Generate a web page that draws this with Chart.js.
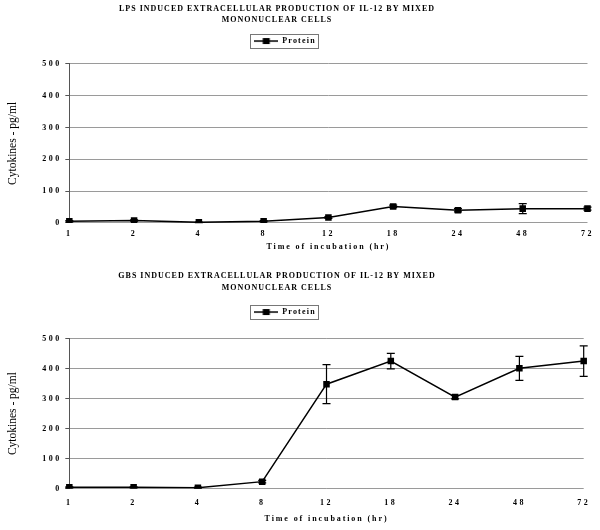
<!DOCTYPE html>
<html><head><meta charset="utf-8">
<script src="https://cdn.jsdelivr.net/npm/chart.js@4.4.0/dist/chart.umd.min.js"></script>
<style>
html,body{margin:0;padding:0;background:#fff;}
#c1{position:absolute;left:0;top:0;}
#c2{position:absolute;left:0;top:260px;}
</style></head><body>
<canvas id="c1" width="600" height="260"></canvas>
<canvas id="c2" width="600" height="270"></canvas>
<script>
// ---- data ----
const timeLabels = ['1','2','4','8','12','18','24','48','72'];
const lpsProtein = [5, 8, 2, 5, 17, 52, 40, 45, 45];
const lpsError   = [2, 2, 1, 2, 3, 4, 5, 16, 5];
const gbsProtein = [4, 4, 3, 23, 348, 425, 305, 401, 425];
const gbsError   = [2, 2, 2, 4, 65, 26, 6, 40, 51];
const yMax = 500;
const yStep = 100;
const lpsTitle = ['LPS INDUCED EXTRACELLULAR PRODUCTION OF IL-12 BY MIXED', 'MONONUCLEAR CELLS'];
const gbsTitle = ['GBS INDUCED EXTRACELLULAR PRODUCTION OF IL-12 BY MIXED', 'MONONUCLEAR CELLS'];
const seriesName = 'Protein';
const xTitle = 'Time of incubation (hr)';
const yTitle = 'Cytokines - pg/ml';

const SERIF = "'Liberation Serif', 'Times New Roman', serif";
// font sizes double as keys for letter spacing
const SZ_TITLE = 8, SZ_LEGEND = 8.01, SZ_TICK = 8.02, SZ_XTITLE = 8.03;
const SPACING = { '8': 1.0, '8.01': 1.2, '8.02': 2.5, '8.03': 1.9 };

function patchSpacing(ctx) {
  const f = ctx.fillText.bind(ctx), m = ctx.measureText.bind(ctx);
  const set = () => {
    const mm = /([\d.]+)px/.exec(ctx.font);
    const s = (mm && ctx.font.indexOf('bold') >= 0) ? (SPACING[String(parseFloat(mm[1]))] || 0) : 0;
    ctx.letterSpacing = s + 'px';
  };
  ctx.fillText = function (...a) { set(); return f(...a); };
  ctx.measureText = function (...a) { set(); return m(...a); };
}

function legendMarker() {
  const c = document.createElement('canvas');
  c.width = 24; c.height = 8;
  const g = c.getContext('2d');
  g.strokeStyle = '#000'; g.lineWidth = 1.5;
  g.beginPath(); g.moveTo(0, 4); g.lineTo(24, 4); g.stroke();
  g.fillStyle = '#000'; g.fillRect(8.5, 1, 7, 6);
  return c;
}

const errorBars = {
  id: 'errorBars',
  afterDatasetsDraw(chart) {
    const ctx = chart.ctx, ds = chart.data.datasets[0], meta = chart.getDatasetMeta(0), y = chart.scales.y;
    ctx.save(); ctx.strokeStyle = '#000'; ctx.lineWidth = 1.2;
    meta.data.forEach((pt, i) => {
      const v = ds.data[i], e = ds.errors[i];
      if (!e) return;
      const y1 = y.getPixelForValue(v + e), y2 = y.getPixelForValue(v - e), x = pt.x;
      ctx.beginPath();
      ctx.moveTo(x, y1); ctx.lineTo(x, y2);
      ctx.moveTo(x - 4, y1); ctx.lineTo(x + 4, y1);
      ctx.moveTo(x - 4, y2); ctx.lineTo(x + 4, y2);
      ctx.stroke();
    });
    ctx.restore();
  }
};

const boxShift = {
  id: 'boxShift',
  afterLayout(chart, args, opts) {
    const t = chart.titleBlock, l = chart.legend;
    if (t) { const h = t.bottom - t.top; t.left = 0; t.right = 554; t.top = opts.titleTop; t.bottom = t.top + h; }
    if (l) { const h = l.bottom - l.top; l.left = 0; l.right = 570; l.top = opts.legendTop; l.bottom = l.top + h; }
  },
  afterDraw(chart) {
    const lg = chart.legend;
    if (!lg || !lg.legendHitBoxes || !lg.legendHitBoxes.length) return;
    const hb = lg.legendHitBoxes[0], ctx = chart.ctx;
    ctx.save(); ctx.strokeStyle = '#777'; ctx.lineWidth = 1;
    ctx.strokeRect(Math.round(hb.left - 4) + 0.5, Math.round(hb.top - 3) + 0.5, Math.round(hb.width + 6), Math.round(hb.height + 6));
    ctx.restore();
  }
};

function makeChart(id, title, values, errors, L) {
  const canvas = document.getElementById(id);
  const ctx = canvas.getContext('2d');
  patchSpacing(ctx);
  return new Chart(canvas, {
    type: 'line',
    data: {
      labels: timeLabels,
      datasets: [{
        label: seriesName,
        data: values,
        errors: errors,
        borderColor: '#000',
        backgroundColor: '#000',
        borderWidth: 1.5,
        pointStyle: 'rect',
        pointRadius: 4.6,
        pointBorderWidth: 0,
        tension: 0
      }]
    },
    options: {
      responsive: false,
      animation: false,
      devicePixelRatio: 1,
      layout: { padding: { left: 4, right: 12, top: L.padTop, bottom: L.padBottom } },
      plugins: {
        boxShift: { titleTop: L.titleTop, legendTop: L.legendTop },
        title: {
          display: true, text: title, color: '#000',
          font: { family: SERIF, size: SZ_TITLE, weight: 'bold', lineHeight: L.titleLH },
          padding: { top: 0, bottom: 2 }
        },
        legend: {
          display: true,
          labels: {
            color: '#000', usePointStyle: true, pointStyle: legendMarker(), pointStyleWidth: 24,
            font: { family: SERIF, size: SZ_LEGEND, weight: 'bold' }, padding: 6
          }
        },
        tooltip: { enabled: false }
      },
      scales: {
        x: {
          type: 'category', offset: false,
          grid: { display: false, drawTicks: false },
          border: { display: false },
          ticks: { color: '#000', font: { family: SERIF, size: SZ_TICK, weight: 'bold' }, padding: L.xTickPad, maxRotation: 0 },
          title: { display: true, text: xTitle, color: '#000', font: { family: SERIF, size: SZ_XTITLE, weight: 'bold' }, padding: { top: L.xTitleTop, bottom: L.xTitleBottom } }
        },
        y: {
          min: 0, max: yMax,
          grid: { color: '#9a9a9a', lineWidth: 1, tickLength: 4, tickColor: '#555' },
          border: { display: true, color: '#555', width: 1 },
          ticks: { stepSize: yStep, color: '#000', font: { family: SERIF, size: SZ_TICK, weight: 'bold' }, padding: 3.5 },
          title: { display: true, text: yTitle, color: '#000', font: { family: SERIF, size: 11.5, weight: 'normal' }, padding: { top: 2, bottom: 19 } }
        }
      }
    },
    plugins: [errorBars, boxShift]
  });
}

makeChart('c1', lpsTitle, lpsProtein, lpsError,
  { padTop: 15.8, padBottom: 2, titleTop: 3, legendTop: 31, titleLH: 1.38, xTickPad: 6, xTitleTop: -2.4, xTitleBottom: 6.2 });
makeChart('c2', gbsTitle, gbsProtein, gbsError,
  { padTop: 28.6, padBottom: 2, titleTop: 10, legendTop: 42, titleLH: 1.5, xTickPad: 9.8, xTitleTop: -3.9, xTitleBottom: 4.5 });
</script>
</body></html>
